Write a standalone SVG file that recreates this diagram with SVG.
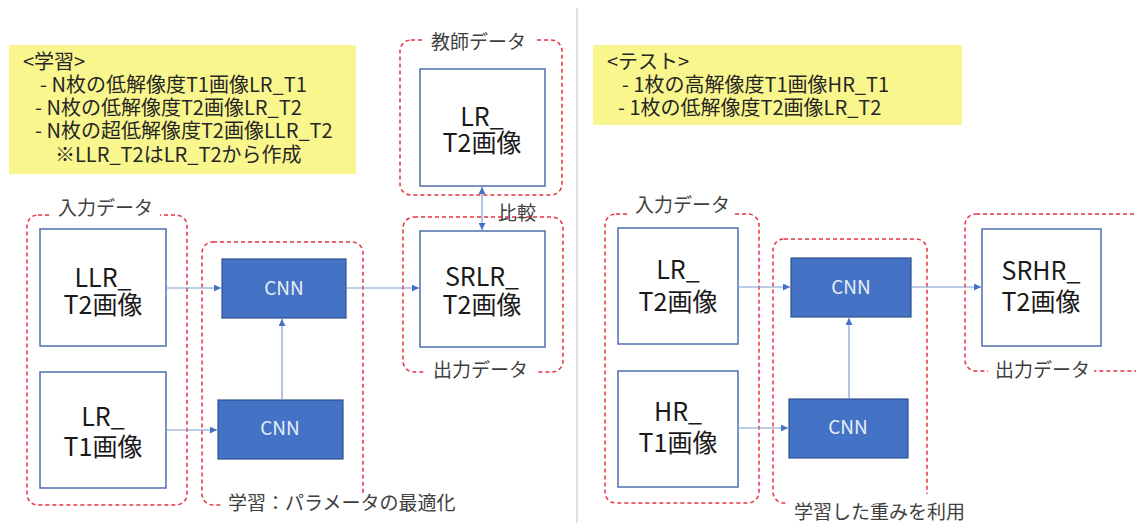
<svg xmlns="http://www.w3.org/2000/svg" width="1136" height="523" viewBox="0 0 1136 523">
<defs>
<marker id="ah" viewBox="0 0 10 10" refX="10" refY="5" markerWidth="7" markerHeight="7" orient="auto-start-reverse" markerUnits="userSpaceOnUse">
<path d="M0,0 L10,5 L0,10 z" fill="#4472C4"/>
</marker>
<style>
.grp{fill:none;stroke:#E8323F;stroke-width:1.5;stroke-dasharray:4 3}
.box{fill:#fff;stroke:#4F6FAE;stroke-width:1.5}
.cnn{fill:#4472C4;stroke:#2F528F;stroke-width:1.2}
.mask{fill:#fff;stroke:none}
.lbl{font-family:"Noto Sans CJK JP",sans-serif;font-size:19px;fill:#404040}
.big{font-family:"Noto Sans CJK JP",sans-serif;font-size:25px;fill:#1a1a1a;text-anchor:middle}
.cnt{font-family:"Noto Sans CJK JP",sans-serif;font-size:19px;fill:#E8EEF8;text-anchor:middle}
.note{font-family:"Noto Sans CJK JP",sans-serif;font-size:20px;fill:#262626}
.con{stroke:#7F9BD0;stroke-width:1.2;fill:none;marker-end:url(#ah)}
</style>
</defs>
<rect width="1136" height="523" fill="#fff"/>
<line x1="577" y1="8" x2="577" y2="523" stroke="#D6D6D6" stroke-width="1.5"/>

<g id="note-train">
<rect x="9" y="45" width="347" height="129" fill="#FAF68E"/>
<text class="note" x="23" y="69">&lt;学習&gt;</text>
<text class="note" x="40" y="92">- N枚の低解像度T1画像LR_T1</text>
<text class="note" x="35" y="115">- N枚の低解像度T2画像LR_T2</text>
<text class="note" x="35" y="138">- N枚の超低解像度T2画像LLR_T2</text>
<text class="note" x="55" y="162">※LLR_T2はLR_T2から作成</text>
</g>

<g id="note-test">
<rect x="593" y="45" width="369" height="80" fill="#FAF68E"/>
<text class="note" x="607" y="69">&lt;テスト&gt;</text>
<text class="note" x="622" y="92">- 1枚の高解像度T1画像HR_T1</text>
<text class="note" x="618" y="115">- 1枚の低解像度T2画像LR_T2</text>
</g>

<!-- left side groups -->
<g id="grp-input-l">
<rect class="grp" x="27" y="215" width="160" height="290" rx="11"/>
<rect class="mask" x="52" y="200" width="108" height="22"/>
<text class="lbl" x="58" y="215">入力データ</text>
</g>
<g id="grp-cnn-l">
<rect class="grp" x="202" y="242" width="161" height="263" rx="11"/>
<rect class="mask" x="222" y="495" width="250" height="20"/>
<text class="lbl" x="228" y="510">学習：パラメータの最適化</text>
</g>
<g id="grp-teacher">
<rect class="grp" x="400" y="40" width="162" height="155" rx="11"/>
<rect class="mask" x="424" y="30" width="112" height="20"/>
<text class="lbl" x="431" y="49">教師データ</text>
</g>
<g id="grp-out-l">
<rect class="grp" x="403" y="217" width="160" height="155" rx="11"/>
<rect class="mask" x="426" y="362" width="110" height="20"/>
<text class="lbl" x="433" y="377">出力データ</text>
</g>

<!-- right side groups -->
<g id="grp-input-r">
<rect class="grp" x="605" y="214" width="154" height="289" rx="11"/>
<rect class="mask" x="629" y="197" width="104" height="22"/>
<text class="lbl" x="635" y="212">入力データ</text>
</g>
<g id="grp-cnn-r">
<rect class="grp" x="773" y="239" width="154" height="264" rx="11"/>
<rect class="mask" x="788" y="494" width="184" height="24"/>
<text class="lbl" x="794" y="519">学習した重みを利用</text>
</g>
<g id="grp-out-r">
<rect class="grp" x="965" y="214" width="190" height="157" rx="11"/>
<rect class="mask" x="988" y="362" width="106" height="20"/>
<text class="lbl" x="995" y="377">出力データ</text>
</g>

<!-- left nodes -->
<g id="llr-t2">
<rect class="box" x="40" y="229" width="126" height="117"/>
<text class="big"><tspan x="103" y="287">LLR_</tspan><tspan x="103" y="314">T2画像</tspan></text>
</g>
<g id="lr-t1">
<rect class="box" x="40" y="372" width="126" height="116"/>
<text class="big"><tspan x="103" y="426">LR_</tspan><tspan x="103" y="456">T1画像</tspan></text>
</g>
<g id="cnn-l1">
<rect class="cnn" x="222" y="259" width="124" height="59"/>
<text class="cnt" x="284" y="295">CNN</text>
</g>
<g id="cnn-l2">
<rect class="cnn" x="218" y="400" width="125" height="59"/>
<text class="cnt" x="280" y="435">CNN</text>
</g>
<g id="lr-t2-teacher">
<rect class="box" x="420" y="69" width="125" height="117"/>
<text class="big"><tspan x="482" y="126">LR_</tspan><tspan x="482" y="152">T2画像</tspan></text>
</g>
<g id="srlr-t2">
<rect class="box" x="420" y="231" width="125" height="116"/>
<text class="big"><tspan x="482" y="286">SRLR_</tspan><tspan x="482" y="314">T2画像</tspan></text>
</g>
<text class="lbl" x="498" y="220">比較</text>

<!-- right nodes -->
<g id="lr-t2-r">
<rect class="box" x="618" y="228" width="120" height="116"/>
<text class="big"><tspan x="678" y="279">LR_</tspan><tspan x="678" y="311">T2画像</tspan></text>
</g>
<g id="hr-t1-r">
<rect class="box" x="618" y="371" width="120" height="116"/>
<text class="big"><tspan x="678" y="421">HR_</tspan><tspan x="678" y="452">T1画像</tspan></text>
</g>
<g id="cnn-r1">
<rect class="cnn" x="791" y="258" width="120" height="59"/>
<text class="cnt" x="851" y="294">CNN</text>
</g>
<g id="cnn-r2">
<rect class="cnn" x="789" y="399" width="119" height="59"/>
<text class="cnt" x="848" y="434">CNN</text>
</g>
<g id="srhr-t2">
<rect class="box" x="982" y="229" width="119" height="117"/>
<text class="big"><tspan x="1041" y="280">SRHR_</tspan><tspan x="1041" y="311">T2画像</tspan></text>
</g>

<g id="connectors">
<line class="con" x1="166" y1="288" x2="221" y2="288"/>
<line class="con" x1="166" y1="430" x2="217" y2="430"/>
<line class="con" x1="282" y1="400" x2="282" y2="319"/>
<line class="con" x1="346" y1="288" x2="419" y2="288"/>
<line class="con" x1="482" y1="187" x2="482" y2="230" marker-start="url(#ah)"/>
<line class="con" x1="738" y1="287" x2="790" y2="287"/>
<line class="con" x1="738" y1="428" x2="788" y2="428"/>
<line class="con" x1="849" y1="399" x2="849" y2="318"/>
<line class="con" x1="911" y1="287" x2="981" y2="287"/>
</g>
</svg>
